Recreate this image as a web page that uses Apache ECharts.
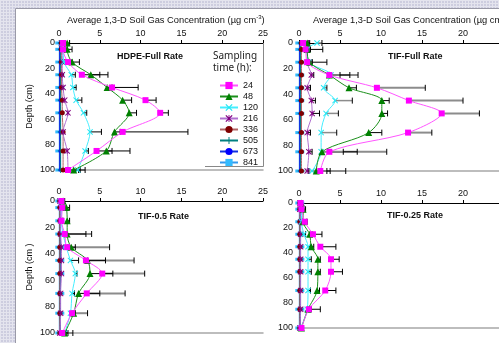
<!DOCTYPE html>
<html><head><meta charset="utf-8">
<script src="https://cdn.jsdelivr.net/npm/echarts@6/dist/echarts.min.js"></script>
<style>
html,body{margin:0;padding:0;}
#c{width:499px;height:343px;background-color:#cdcddf;
background-image:linear-gradient(#e4e4ee 1px,transparent 1px),linear-gradient(90deg,#e4e4ee 1px,transparent 1px);
background-size:3px 3px;}
</style>
</head><body><div id="c"></div>
<script>
// ---------- data ----------
const depths = [0, 5, 15, 25, 35, 45, 55, 70, 85, 100];
const seriesNames = ['24', '48', '120', '216', '336', '505', '673', '841'];
const panelTitles = ['HDPE-Full Rate', 'TIF-Full Rate', 'TIF-0.5 Rate', 'TIF-0.25 Rate'];
const xMin = 0, xMax = 25, xStep = 5;
const yMin = 0, yMax = 100, yStep = 20;

// HDPE-Full Rate
const hdpe24  = [0.5, 0.5, 1.1, 2.8, 6.5, 10.6, 12.4, 7.8, 4.6, 1.1];
const hdpe48  = [1.0, 1.0, 1.6, 3.9, 5.9, 7.8, 8.6, 6.8, 5.8, 1.8];
const hdpe120 = [0.4, 0.5, 0.6, 1.5, 1.7, 2.1, 3.0, 3.8, 3.2, 2.3];
const hdpe216 = [0.3, 0.4, 0.4, 0.4, 0.5, 0.7, 1.1, 0.5, 1.0, 1.1];
const hdpe336 = [0.3, 0.3, 0.3, 0.3, 0.3, 0.4, 0.4, 0.5, 0.5, 0.5];
const hdpe505 = [0.2, 0.2, 0.2, 0.2, 0.2, 0.2, 0.2, 0.2, 0.2, 0.2];
const hdpe673 = [0.1, 0.1, 0.1, 0.1, 0.1, 0.1, 0.1, 0.1, 0.1, 0.1];
const hdpe841 = [0.1, 0.1, 0.1, 0.1, 0.1, 0.1, 0.1, 0.1, 0.1, 0.1];
const hdpe24err  = [0.8, 1.0, 1.6, 6.0, 9.7, 11.9, 13.4, 15.8, 8.7, 3.2];
const hdpe48err  = [1.3, 1.6, 2.5, 5.0, 6.5, 8.9, 9.5, 7.5, 6.5, 2.4];
const hdpe120err = [0.6, 0.7, 0.9, 2.0, 2.1, 2.8, 3.4, 5.2, 3.6, 2.6];

// TIF-Full Rate
const tif24  = [0.5, 0.8, 1.0, 3.7, 9.5, 13.4, 17.4, 13.3, 3.7, 2.6];
const tif48  = [1.0, 1.0, 1.3, 3.7, 6.1, 10.1, 10.1, 8.5, 2.8, 2.1];
const tif120 = [2.2, 1.0, 1.2, 3.9, 3.0, 4.4, 3.3, 2.7, 2.7, 1.6];
const tif216 = [1.0, 1.0, 1.0, 1.5, 1.0, 1.5, 1.6, 1.0, 1.2, 1.0];
const tif336 = [0.3, 0.3, 0.3, 0.3, 0.3, 0.3, 0.3, 0.3, 0.3, 0.3];
const tif505 = [0.2, 0.2, 0.2, 0.2, 0.2, 0.2, 0.2, 0.2, 0.2, 0.2];
const tif673 = [0.1, 0.1, 0.1, 0.1, 0.1, 0.1, 0.1, 0.1, 0.1, 0.1];
const tif841 = [0.1, 0.1, 0.1, 0.1, 0.1, 0.1, 0.1, 0.1, 0.1, 0.1];
const tif24err  = [0.8, 1.2, 1.6, 7.2, 15.4, 20.0, 22.0, 16.2, 10.7, 5.7];
const tif48err  = [1.3, 2.9, 3.4, 6.2, 7.0, 11.0, 10.8, 10.1, 7.1, 3.8];
const tif120err = [2.8, 1.4, 1.6, 5.0, 3.4, 6.5, 4.8, 4.6, 5.4, 3.4];
const tif216err = [1.2, 1.2, 1.2, 1.8, 1.4, 2.0, 2.5, 1.4, 1.6, 1.2];

// TIF-0.5 Rate
const half24  = [0.3, 0.4, 0.3, 0.7, 1.0, 3.3, 5.3, 3.4, 1.6, 0.4];
const half48  = [0.5, 0.9, 1.0, 1.0, 1.5, 3.5, 3.8, 2.4, 1.8, 0.7];
const half120 = [0.2, 0.3, 0.3, 0.5, 0.9, 1.4, 2.0, 1.6, 1.4, 0.7];
const half216 = [0.1, 0.2, 0.2, 0.2, 0.3, 0.3, 0.3, 0.2, 0.2, 0.1];
const half336 = [0.1, 0.1, 0.1, 0.1, 0.1, 0.1, 0.1, 0.1, 0.1, 0.1];
const half505 = [0.1, 0.1, 0.1, 0.1, 0.1, 0.1, 0.1, 0.1, 0.1, 0.1];
const half673 = [0.1, 0.1, 0.1, 0.1, 0.1, 0.1, 0.1, 0.1, 0.1, 0.1];
const half841 = [0.1, 0.1, 0.1, 0.1, 0.1, 0.1, 0.1, 0.1, 0.1, 0.1];
const half24err  = [0.5, 0.6, 0.5, 4.0, 6.2, 9.2, 10.5, 8.1, 3.5, 1.7];
const half48err  = [0.7, 1.3, 1.3, 3.3, 2.0, 5.7, 6.6, 5.0, 2.0, 1.1];
const half120err = [0.3, 0.4, 0.4, 0.7, 1.1, 2.4, 2.2, 1.9, 1.6, 0.9];

// TIF-0.25 Rate
const qtr24  = [0.2, 0.3, 0.7, 1.7, 2.6, 3.9, 3.9, 3.2, 1.2, 0.3];
const qtr48  = [0.3, 0.5, 0.5, 1.3, 1.5, 2.3, 2.3, 2.2, 1.1, 0.3];
const qtr120 = [0.2, 0.3, 0.3, 0.6, 1.1, 1.1, 1.1, 1.1, 1.0, 0.2];
const qtr216 = [0.1, 0.1, 0.2, 0.2, 0.2, 0.2, 0.2, 0.2, 0.2, 0.1];
const qtr336 = [0.1, 0.1, 0.1, 0.1, 0.1, 0.1, 0.1, 0.1, 0.1, 0.1];
const qtr505 = [0.1, 0.1, 0.1, 0.1, 0.1, 0.1, 0.1, 0.1, 0.1, 0.1];
const qtr673 = [0.1, 0.1, 0.1, 0.1, 0.1, 0.1, 0.1, 0.1, 0.1, 0.1];
const qtr841 = [0.1, 0.1, 0.1, 0.1, 0.1, 0.1, 0.1, 0.1, 0.1, 0.1];
const qtr24err  = [0.3, 0.6, 1.0, 2.8, 4.5, 4.9, 5.3, 4.5, 2.6, 0.5];
const qtr48err  = [0.4, 0.8, 0.9, 1.6, 1.8, 2.6, 2.6, 2.5, 1.5, 0.4];
const qtr120err = [0.3, 0.4, 0.4, 0.8, 1.4, 1.5, 1.5, 1.4, 1.3, 0.3];

// ---------- chart ----------
const FONT = 'Liberation Sans, Arial, sans-serif';
const XSYM = 'path://M0,1.2L1.2,0L5,3.8L8.8,0L10,1.2L6.2,5L10,8.8L8.8,10L5,6.2L1.2,10L0,8.8L3.8,5Z';
const STAR = 'path://M0,1.2L1.2,0L4.4,3.2V0H5.6V3.2L8.8,0L10,1.2L6.2,5L10,8.8L8.8,10L5.6,6.8V10H4.4V6.8L1.2,10L0,8.8L3.8,5Z';
const PLUS = 'path://M4.3,0H5.7V4.3H10V5.7H5.7V10H4.3V5.7H0V4.3H4.3Z';
const styles = [
  {c:'#ff00ff', lc:'#ff55ff', sym:'rect', size:6, w:1},
  {c:'#008000', lc:'#1a8f1a', sym:'triangle', size:7, w:1},
  {c:'#22e6f2', lc:'#44eeff', sym:XSYM, size:6, w:1},
  {c:'#800080', lc:'#b070d0', sym:STAR, size:6, w:1},
  {c:'#800000', lc:'#b06464', sym:'circle', size:5, w:1},
  {c:'#008080', lc:'#008080', sym:PLUS, size:6, w:1},
  {c:'#0000ff', lc:'#1030e0', sym:'circle', size:3, w:1.5},
  {c:'#33bbff', lc:'#3399ee', sym:'rect', size:[9,3], w:2}
];
const panels = [
  {vals:[hdpe24,hdpe48,hdpe120,hdpe216,hdpe336,hdpe505,hdpe673,hdpe841],
   errs:[[hdpe24,hdpe24err,'#000',1],[hdpe48,hdpe48err,'#000',1],[hdpe120,hdpe120err,'#000',1]]},
  {vals:[tif24,tif48,tif120,tif216,tif336,tif505,tif673,tif841],
   errs:[[tif24,tif24err,'#8c8c8c',2],[tif48,tif48err,'#000',1],[tif120,tif120err,'#8c8c8c',1.5],[tif216,tif216err,'#000',1]]},
  {vals:[half24,half48,half120,half216,half336,half505,half673,half841],
   errs:[[half24,half24err,'#8c8c8c',2],[half48,half48err,'#000',1],[half120,half120err,'#000',1]]},
  {vals:[qtr24,qtr48,qtr120,qtr216,qtr336,qtr505,qtr673,qtr841],
   errs:[[qtr24,qtr24err,'#000',1],[qtr48,qtr48err,'#000',1],[qtr120,qtr120err,'#000',1]]}
];
const grids = [
  {left:59, top:43, width:204, height:127, outerBoundsMode:'none', containLabel:false},
  {left:299, top:43, width:205, height:128, outerBoundsMode:'none', containLabel:false},
  {left:59, top:201, width:204, height:132, outerBoundsMode:'none', containLabel:false},
  {left:299, top:203, width:205, height:125, outerBoundsMode:'none', containLabel:false}
];
const titlePos = [[117,57],[388,57],[138,217],[387,216]];

const xAxes = [], yAxes = [], series = [];
grids.forEach((g, p) => {
  xAxes.push({gridIndex:p, type:'value', position:'top', min:xMin, max:xMax, interval:xStep,
    axisLine:{show:true, onZero:false, lineStyle:{color:'#000', width:1}},
    axisTick:{show:true, length:3, lineStyle:{color:'#000'}},
    axisLabel:{fontSize:9, color:'#111', margin:5, fontFamily:FONT},
    splitLine:{show:false}});
  xAxes.push({gridIndex:p, type:'value', position:'bottom', min:xMin, max:xMax, interval:xStep,
    axisLine:{show:true, onZero:false, lineStyle:{color:'#a8a8a8', width:1.5}},
    axisTick:{show:false}, axisLabel:{show:false}, splitLine:{show:false}});
  const left = (p % 2 === 0);
  yAxes.push({gridIndex:p, type:'value', inverse:true, min:yMin, max:yMax, interval:yStep,
    name: left ? (p === 0 ? 'Depth (cm)' : 'Depth (cm )') : '',
    nameLocation:'middle', nameGap:25, nameRotate:90,
    nameTextStyle:{fontSize:9, color:'#111', fontFamily:FONT},
    axisLine:{show:true, onZero:false, lineStyle:{color:'#000'}},
    axisTick:{show:false},
    axisLabel:{fontSize:9, color:'#111', margin: left ? 4 : 6, fontFamily:FONT},
    splitLine:{show:false}});
  const pn = panels[p];
  pn.errs.forEach(([v, e, col, w]) => {
    series.push({type:'custom', xAxisIndex:2*p, yAxisIndex:p, silent:true, z:1,
      data: depths.map((d, i) => [v[i], e[i], d]),
      encode:{x:[0,1], y:2},
      renderItem:(params, api) => {
        const a = api.coord([api.value(0), api.value(2)]);
        const b = api.coord([api.value(1), api.value(2)]);
        return {type:'group', children:[
          {type:'line', shape:{x1:a[0], y1:a[1], x2:b[0], y2:b[1]}, style:{stroke:col, lineWidth:w}},
          {type:'line', shape:{x1:b[0], y1:b[1]-3, x2:b[0], y2:b[1]+3}, style:{stroke:'#000', lineWidth:1}}
        ]};
      }});
  });
  pn.vals.forEach((v, k) => {
    const s = styles[k];
    series.push({type:'line', name:seriesNames[k], xAxisIndex:2*p, yAxisIndex:p,
      data: depths.map((d, i) => [v[i], d]),
      smooth:0.3, symbol:s.sym, symbolSize:s.size, showSymbol:true,
      itemStyle:{color:s.c, borderWidth:0},
      lineStyle:{color:s.lc, width:s.w},
      z: 2 + (7 - k) * 0.01, animation:false});
  });
});

const graphic = [
  {type:'rect', shape:{x:16, y:9, width:483, height:334}, style:{fill:'#fff'}, z:-100, silent:true},
  {type:'line', shape:{x1:15.5, y1:8.5, x2:15.5, y2:343}, style:{stroke:'#9a9aa8', lineWidth:1}, z:-99},
  {type:'line', shape:{x1:15.5, y1:8.5, x2:499, y2:8.5}, style:{stroke:'#9a9aa8', lineWidth:1}, z:-99},
  {type:'polyline', shape:{points:[[263.5,43],[263.5,166.5],[205,166.5]]}, style:{stroke:'#888', lineWidth:1, fill:null}, z:5},
  {type:'text', x:213, y:50, style:{text:'Sampling\ntime (h):', fontSize:10, lineHeight:12, fill:'#222', fontFamily:'Noto Sans, Open Sans, sans-serif'}, z:5},
  {type:'text', x:67, y:14, style:{text:'{a|Average 1,3-D Soil Gas Concentration (µg cm}{s|-3}{a|)}',
    rich:{a:{fontSize:9.3, fontFamily:FONT, fill:'#111', lineHeight:12}, s:{fontSize:6, fontFamily:FONT, fill:'#111', verticalAlign:'top', lineHeight:8}}}, z:5},
  {type:'text', x:313, y:14, style:{text:'{a|Average 1,3-D Soil Gas Concentration (µg cm}{s|-3}{a|)}',
    rich:{a:{fontSize:9.3, fontFamily:FONT, fill:'#111', lineHeight:12}, s:{fontSize:6, fontFamily:FONT, fill:'#111', verticalAlign:'top', lineHeight:8}}}, z:5}
];
panelTitles.forEach((t, p) => {
  graphic.push({type:'text', x:titlePos[p][0], y:titlePos[p][1], style:{text:t, fontSize:9, fontWeight:'bold', fill:'#111', fontFamily:FONT, verticalAlign:'middle'}, z:5});
});

const chart = echarts.init(document.getElementById('c'), null, {renderer:'canvas'});
chart.setOption({
  animation:false,
  grid: grids,
  xAxis: xAxes,
  yAxis: yAxes,
  legend:{data:seriesNames, orient:'vertical', left:214, top:76, itemWidth:18, itemHeight:9, itemGap:2,
    selectedMode:false, textStyle:{fontSize:9, color:'#111', fontFamily:FONT}},
  graphic: graphic,
  series: series
});
</script>
</body></html>
